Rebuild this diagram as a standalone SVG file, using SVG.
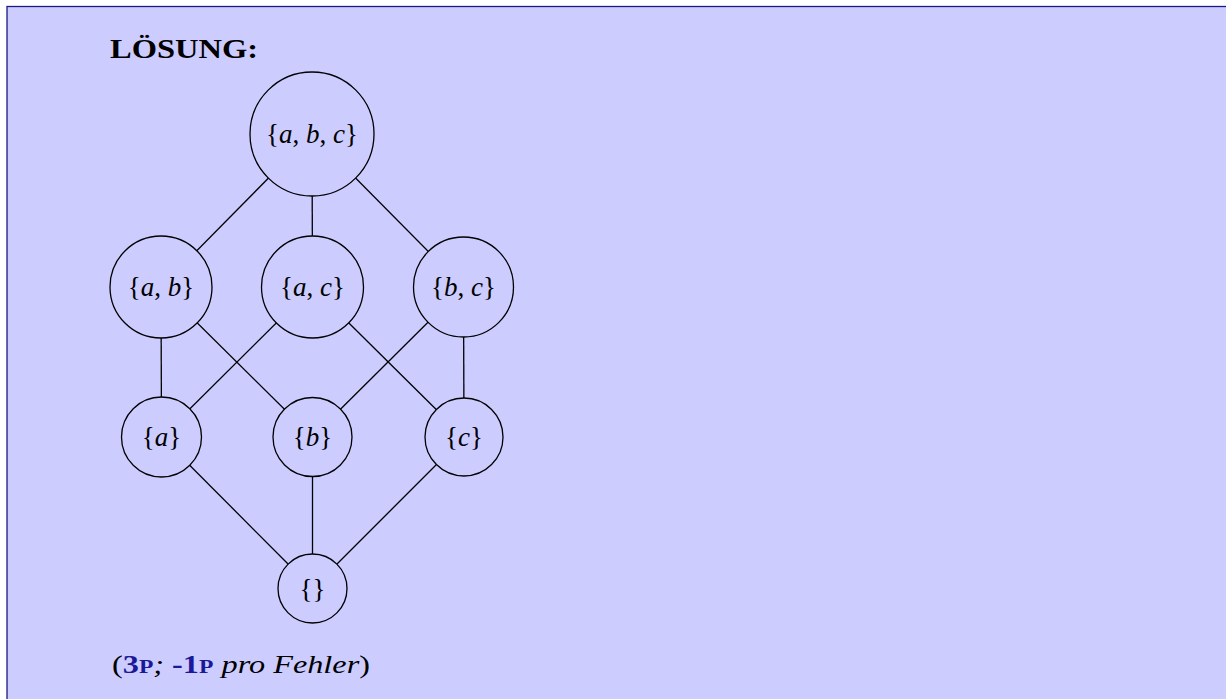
<svg xmlns="http://www.w3.org/2000/svg" width="1226" height="699" viewBox="0 0 1226 699">
<style>
.n{fill:#ccccff;stroke:#000;stroke-width:1.3}
.e{stroke:#000;stroke-width:1.3;fill:none}
.t{font-family:"Liberation Serif","DejaVu Serif",serif;font-size:27px;text-anchor:middle;fill:#000}
.i{font-style:italic}
.b{font-family:"Liberation Serif","DejaVu Serif",serif;font-weight:bold;fill:#000}
.bl{font-weight:bold;fill:#1a1a99}
</style>
<rect x="0" y="0" width="1226" height="699" fill="#fff"/>
<rect x="7" y="6.5" width="1240" height="720" fill="#ccccff" stroke="#1a1a80" stroke-width="1.3"/>
<text class="b" x="110" y="58" font-size="28" textLength="148" lengthAdjust="spacingAndGlyphs">LÖSUNG:</text>
<g id="edges">
<line class="e" x1="312" y1="134" x2="161" y2="287"/>
<line class="e" x1="312" y1="134" x2="312.5" y2="287"/>
<line class="e" x1="312" y1="134" x2="463.5" y2="287"/>
<line class="e" x1="161" y1="287" x2="161.5" y2="437"/>
<line class="e" x1="161" y1="287" x2="312.5" y2="437"/>
<line class="e" x1="312.5" y1="287" x2="161.5" y2="437"/>
<line class="e" x1="312.5" y1="287" x2="464" y2="437"/>
<line class="e" x1="463.5" y1="287" x2="312.5" y2="437"/>
<line class="e" x1="463.5" y1="287" x2="464" y2="437"/>
<line class="e" x1="161.5" y1="437" x2="312.5" y2="588.5"/>
<line class="e" x1="312.5" y1="437" x2="312.5" y2="588.5"/>
<line class="e" x1="464" y1="437" x2="312.5" y2="588.5"/>
</g>
<g id="abc"><circle cx="312" cy="134" r="62" class="n"/><text class="t" x="312" y="143">{<tspan class="i">a</tspan>, <tspan class="i">b</tspan>, <tspan class="i">c</tspan>}</text></g>
<g id="ab"><circle cx="161" cy="287" r="51" class="n"/><text class="t" x="161" y="296">{<tspan class="i">a</tspan>, <tspan class="i">b</tspan>}</text></g>
<g id="ac"><circle cx="312.5" cy="287" r="51" class="n"/><text class="t" x="312.5" y="296">{<tspan class="i">a</tspan>, <tspan class="i">c</tspan>}</text></g>
<g id="bc"><circle cx="463.5" cy="287" r="50" class="n"/><text class="t" x="463.5" y="296">{<tspan class="i">b</tspan>, <tspan class="i">c</tspan>}</text></g>
<g id="a"><circle cx="161.5" cy="437" r="40" class="n"/><text class="t" x="161.5" y="446">{<tspan class="i">a</tspan>}</text></g>
<g id="b"><circle cx="312.5" cy="437" r="39.5" class="n"/><text class="t" x="312.5" y="446">{<tspan class="i">b</tspan>}</text></g>
<g id="c"><circle cx="464" cy="437" r="39" class="n"/><text class="t" x="464" y="446">{<tspan class="i">c</tspan>}</text></g>
<g id="empty"><circle cx="312.5" cy="588.5" r="34.5" class="n"/><text class="t" x="312.5" y="597.5">{}</text></g>
<text x="112" y="673" font-family="Liberation Serif, DejaVu Serif, serif" font-size="26" fill="#000" textLength="258" lengthAdjust="spacingAndGlyphs">(<tspan class="bl">3<tspan font-size="19">P</tspan></tspan><tspan font-style="italic">; </tspan><tspan class="bl">-1<tspan font-size="19">P</tspan></tspan> <tspan font-style="italic">pro Fehler</tspan>)</text>
</svg>
